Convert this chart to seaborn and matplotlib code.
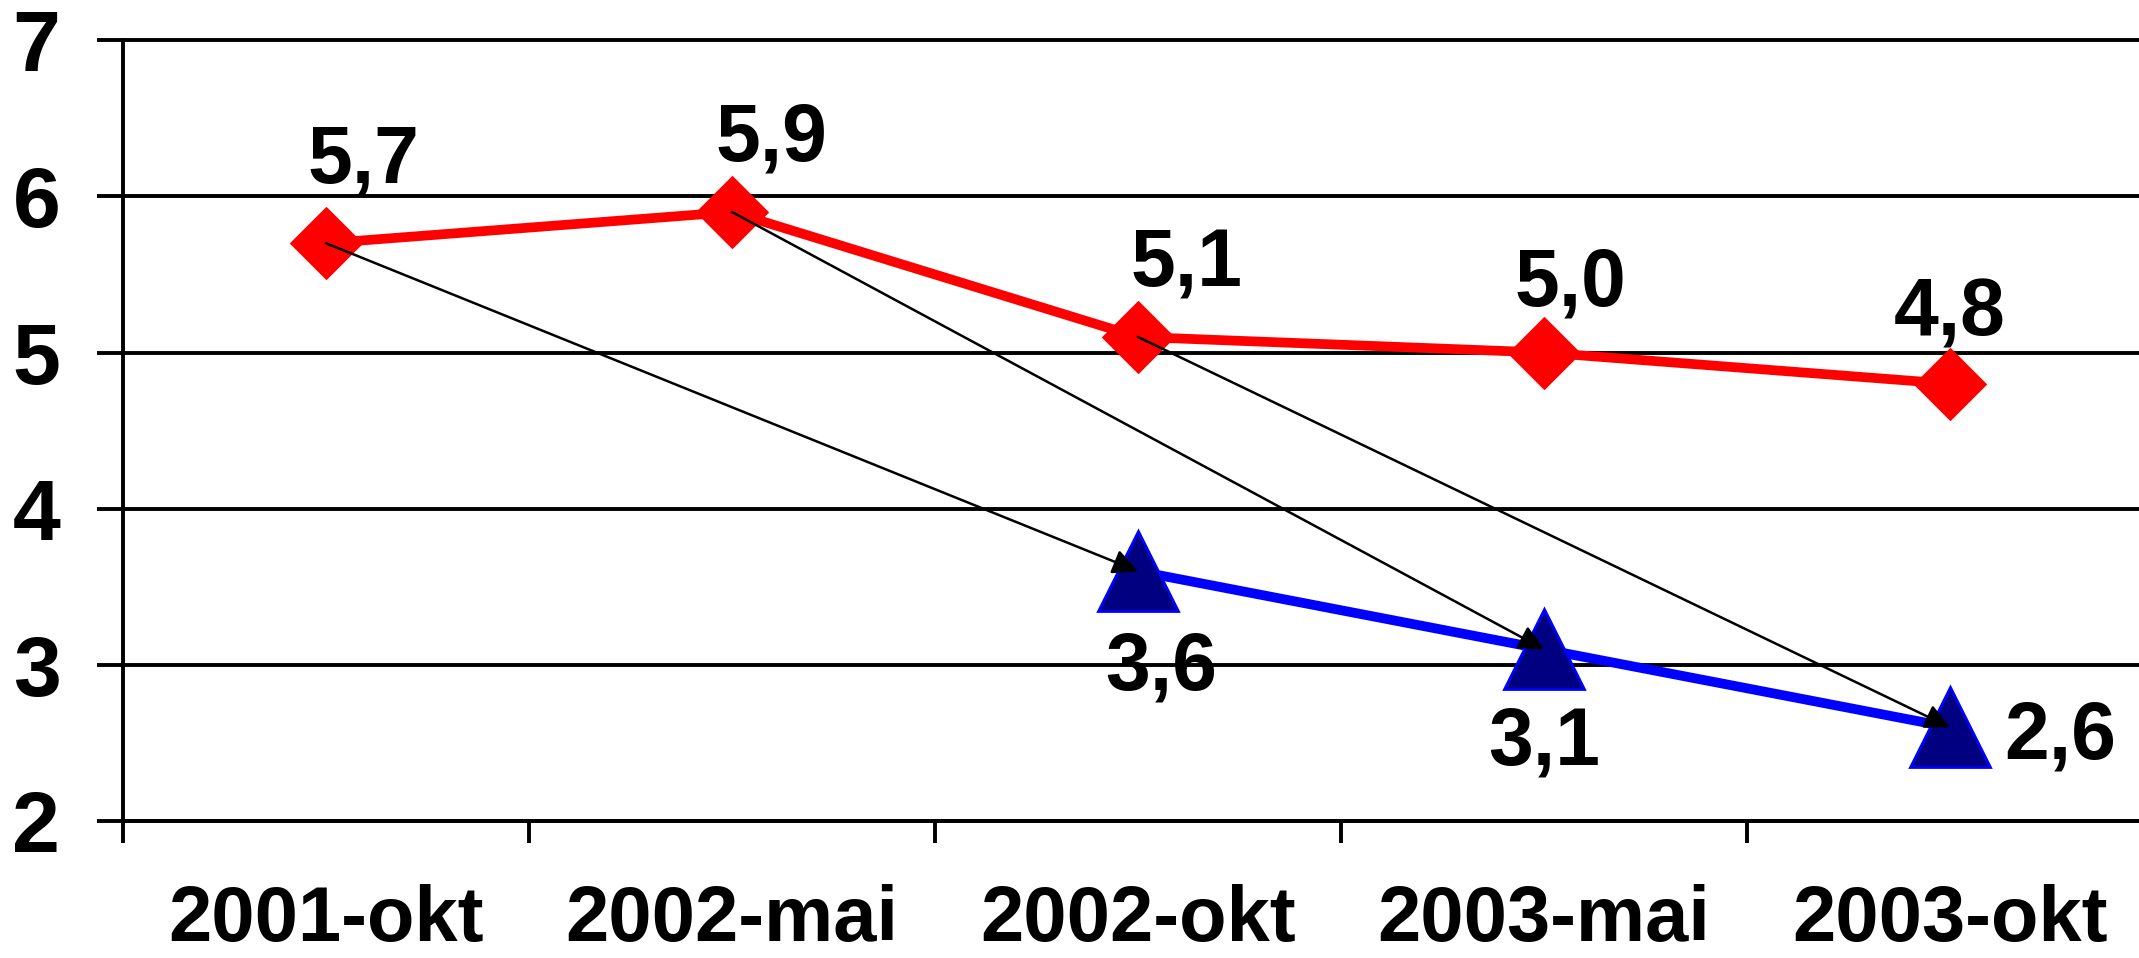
import numpy as np
import pandas as pd
import matplotlib
matplotlib.use("Agg")
import matplotlib.pyplot as plt
import seaborn as sns

# data
periods = ["2001-okt", "2002-mai", "2002-okt", "2003-mai", "2003-okt"]
red_values = [5.7, 5.9, 5.1, 5.0, 4.8]
blue_periods = ["2002-okt", "2003-mai", "2003-okt"]
blue_values = [3.6, 3.1, 2.6]
# arrows: (from red index, to blue index)
arrow_pairs = [(0, 0), (1, 1), (2, 2)]

sns.set_style("white")
plt.rcParams["font.family"] = ["Liberation Sans", "DejaVu Sans"]
plt.rcParams["font.weight"] = "bold"
plt.rcParams["text.color"] = "black"
plt.rcParams["xtick.color"] = "black"
plt.rcParams["ytick.color"] = "black"

fig = plt.figure(figsize=(21.39, 9.58), dpi=100)
ax = fig.add_axes([0.0575, 0.143, 0.9425, 0.815])

red_df = pd.DataFrame({"period": periods, "value": red_values})
blue_df = pd.DataFrame({"period": blue_periods, "value": blue_values})

sns.lineplot(data=red_df, x="period", y="value", ax=ax, color="#ff0000",
             linewidth=7, marker="D", markersize=37, markeredgecolor="#ff0000",
             markerfacecolor="#ff0000", zorder=3)
sns.lineplot(data=blue_df, x="period", y="value", ax=ax, color="#0000ff",
             linewidth=7, marker="^", markersize=57, markeredgecolor="#0000ff",
             markerfacecolor="#000080", markeredgewidth=2, zorder=3)

xpos = {p: i for i, p in enumerate(periods)}

# arrows red -> blue
for ri, bi in arrow_pairs:
    ax.annotate("", xy=(xpos[blue_periods[bi]], blue_values[bi]),
                xytext=(xpos[periods[ri]], red_values[ri]),
                arrowprops=dict(arrowstyle="-|>", color="black", lw=1.8,
                                mutation_scale=38, shrinkA=0, shrinkB=0),
                zorder=5)

fs = 58
red_offsets = [(38, 82), (40, 73), (49, 71), (27, 68), (0, 69)]
for p, v, (dx, dy) in zip(periods, red_values, red_offsets):
    ax.annotate(f"{v:.1f}".replace(".", ","), (xpos[p], v), xytext=(dx * 0.72, dy * 0.72),
                textcoords="offset points", ha="center", va="center",
                fontsize=fs, fontweight="bold", color="black", zorder=6)
blue_offsets = [(23, -97), (0, -94), (110, -10)]
for p, v, (dx, dy) in zip(blue_periods, blue_values, blue_offsets):
    ax.annotate(f"{v:.1f}".replace(".", ","), (xpos[p], v), xytext=(dx * 0.72, dy * 0.72),
                textcoords="offset points", ha="center", va="center",
                fontsize=fs, fontweight="bold", color="black", zorder=6)

ax.set_xlim(-0.5, 4.466)
ax.set_ylim(2, 7)
ax.set_yticks(range(2, 8))
ax.set_xticks(range(len(periods)))
ax.set_xticklabels(periods)
ax.set_xticks(np.arange(-0.5, 4.5, 1.0), minor=True)
ax.set_xlabel("")
ax.set_ylabel("")

ax.yaxis.grid(True, color="black", linewidth=2.8)
ax.xaxis.grid(False)
ax.set_axisbelow(True)
for gl in ax.get_ygridlines():
    gl.set_clip_on(False)
for s in ["top", "right"]:
    ax.spines[s].set_visible(False)
for s in ["left", "bottom"]:
    ax.spines[s].set_color("black")
    ax.spines[s].set_linewidth(2.8)

ax.tick_params(axis="y", direction="out", length=19, width=2.8, colors="black",
               labelsize=62, pad=26, left=True)
ax.tick_params(axis="x", which="major", length=0, labelsize=56, pad=45, colors="black")
ax.tick_params(axis="x", which="minor", direction="out", length=16, width=2.8,
               color="black", bottom=True)
for lab in ax.get_xticklabels() + ax.get_yticklabels():
    lab.set_fontweight("bold")

fig.savefig("out.png", dpi=100)
